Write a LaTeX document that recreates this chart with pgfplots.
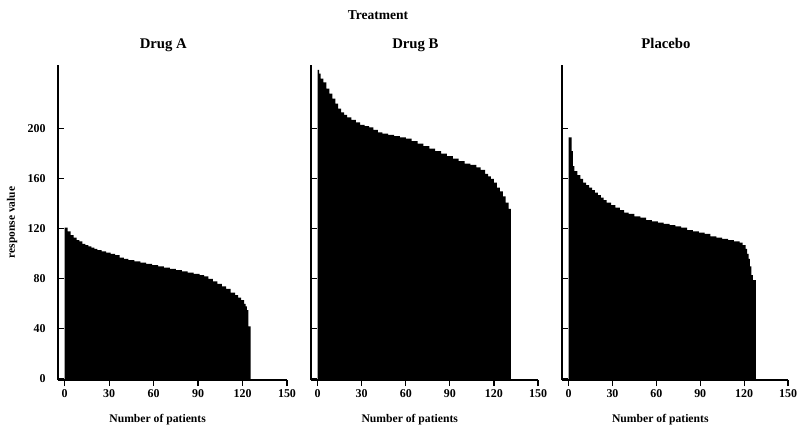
\documentclass[border=0pt]{standalone}
\usepackage{fontspec}
\setmainfont{Liberation Serif}
\usepackage{pgfplots}
\pgfplotsset{compat=1.18}

\pgfplotsset{
  panel/.style={
    scale only axis,
    height=315bp,
    xmin=-4.5, xmax=150,
    ymin=-1, ymax=251,
    axis x line*=bottom,
    axis y line*=left,
    axis line style={line width=1.3bp},
    tick style={line width=1.2bp, black},
    tick align=outside,
    major tick length=6bp,
    ytick style={xshift=6bp},
    xtick={0,30,60,90,120,150},
    ytick={0,40,80,120,160,200},
    tick label style={font=\fontsize{12}{12}\selectfont\bfseries},
    yticklabel style={xshift=-3bp},
    /pgf/number format/assume math mode=true,
    title style={font=\fontsize{14.8}{14.8}\selectfont\bfseries,
      at={(axis description cs:0.46,1)}, anchor=base, yshift=11bp},
    xlabel={Number of patients},
    xlabel style={font=\fontsize{11.7}{11.7}\selectfont\bfseries,
      at={(axis description cs:0.435,0)}, anchor=base, yshift=-42bp},
    clip=false,
  },
  bars/.style={fill=black, draw=none, const plot mark left},
}

\begin{document}
\begin{tikzpicture}[x=1bp,y=1bp]
\useasboundingbox (0,0) rectangle (797,427);

\node[font=\fontsize{13.6}{13.6}\selectfont\bfseries, anchor=base] at (378,407) {Treatment};

% Drug A
\begin{axis}[panel, at={(58bp,47bp)}, anchor=south west, width=229bp,
  title={Drug A},
  ylabel={response value},
  ylabel style={font=\fontsize{11.5}{11.5}\selectfont\bfseries,
    at={(axis description cs:0,0.5)}, anchor=center, yshift=46bp}]
\addplot[bars] coordinates {
(0,121) (2,118) (4,115) (6,113) (8,111) (10,110) (12,108) (14,107)
(16,106) (18,105) (20,104) (22,103) (25,102) (28,101) (31,100) (34,99)
(37,97) (40,96) (43,95) (47,94) (51,93) (55,92) (59,91) (63,90)
(67,89) (71,88) (75,87) (79,86) (83,85) (87,84) (91,83) (94,82)
(97,80) (100,78) (103,76) (106,74) (109,72) (112,69) (115,67) (117,65)
(119,63) (121,60) (122,58) (123,55) (124,42) (125.5,42)
} \closedcycle;
\end{axis}

% Drug B
\begin{axis}[panel, at={(311bp,47bp)}, anchor=south west, width=227bp,
  title={Drug B}, yticklabels={}]
\addplot[bars] coordinates {
(0,247) (1,244) (2,240) (4,237) (6,232) (8,228) (10,224) (12,220)
(14,216) (16,213) (18,211) (20,209) (23,207) (26,205) (29,203) (32,202)
(35,201) (38,199) (41,197) (44,196) (48,195) (52,194) (56,193) (60,192)
(64,190) (68,188) (72,186) (76,184) (80,182) (84,180) (88,178) (92,176)
(96,174) (100,172) (104,171) (108,169) (111,167) (114,164) (116,162) (118,160)
(120,157) (122,153) (124,150) (126,146) (128,141) (130,136) (131.5,136)
} \closedcycle;
\end{axis}

% Placebo
\begin{axis}[panel, at={(562bp,47bp)}, anchor=south west, width=226bp,
  title={Placebo}, yticklabels={}]
\addplot[bars] coordinates {
(0,193) (2,182) (3,170) (4,166) (6,163) (8,160) (10,157) (12,155)
(14,153) (16,151) (18,149) (20,147) (22,145) (24,143) (26,141) (29,139)
(32,137) (35,135) (38,133) (41,132) (45,130) (49,129) (53,127) (57,126)
(61,125) (65,124) (69,123) (73,122) (77,121) (81,119) (85,118) (89,117)
(93,116) (97,114) (101,113) (105,112) (109,111) (113,110) (117,109) (119,107)
(121,104) (122,100) (123,96) (124,90) (125,83) (126,79) (128,79)
} \closedcycle;
\end{axis}
\end{tikzpicture}
\end{document}
